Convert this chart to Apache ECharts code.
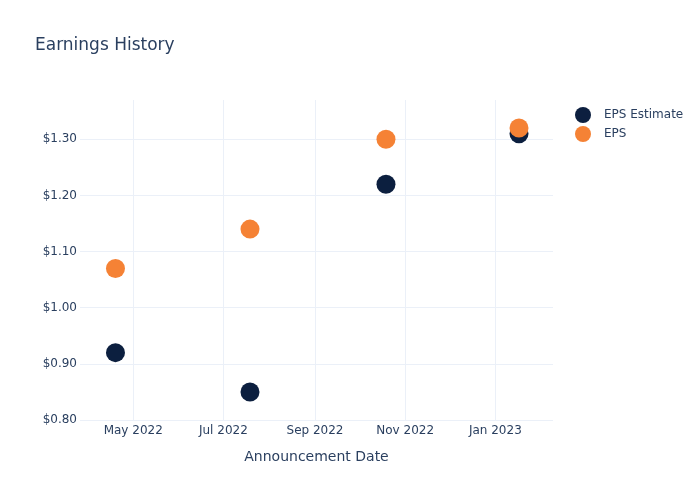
<!DOCTYPE html>
<html>
<head>
<meta charset="utf-8">
<script src="https://cdn.jsdelivr.net/npm/echarts@6/dist/echarts.min.js"></script>
<style>html,body{margin:0;padding:0;background:#fff}#c{width:700px;height:500px}</style>
</head>
<body>
<div id="c"></div>
<script>
var dates = ['2022-04-19', '2022-07-19', '2022-10-19', '2023-01-17'];
var epsEstimate = [0.92, 0.85, 1.22, 1.31];
var eps = [1.07, 1.14, 1.30, 1.32];
var tickDates = ['2022-05-01', '2022-07-01', '2022-09-01', '2022-11-01', '2023-01-01'];
var tickLabels = ['May 2022', 'Jul 2022', 'Sep 2022', 'Nov 2022', 'Jan 2023'];
var xRange = ['2022-03-26', '2023-02-09'];
var yRange = [0.8, 1.37];

function ts(d) { var p = d.split('-'); return Date.UTC(+p[0], +p[1] - 1, +p[2]); }
var tickTs = tickDates.map(ts);
var labelMap = {};
tickTs.forEach(function (t, i) { labelMap[t] = tickLabels[i]; });

var FONT = 'DejaVu Sans';
var TXT = '#2a3f5f';
var GRID = '#EBF0F8';

var chart = echarts.init(document.getElementById('c'), null, { renderer: 'canvas' });
chart.setOption({
  animation: false,
  backgroundColor: '#fff',
  textStyle: { fontFamily: FONT },
  title: {
    text: 'Earnings History', left: 35, top: 37, padding: 0,
    textStyle: { fontFamily: FONT, fontSize: 17, fontWeight: 'normal', color: TXT }
  },
  legend: {
    orient: 'vertical', left: 575, top: 107, padding: 0,
    itemWidth: 32, itemHeight: 16, itemGap: 3, icon: 'circle',
    textStyle: { fontFamily: FONT, fontSize: 12, color: TXT },
    data: ['EPS Estimate', 'EPS']
  },
  grid: { left: 80, right: 147, top: 100, bottom: 80, containLabel: false },
  xAxis: {
    type: 'value',
    min: ts(xRange[0]), max: ts(xRange[1]),
    name: 'Announcement Date', nameLocation: 'middle', nameGap: 30,
    nameTextStyle: { fontFamily: FONT, fontSize: 14, color: TXT },
    axisLine: { show: false },
    axisTick: { show: false, customValues: tickTs },
    axisLabel: {
      customValues: tickTs, margin: 5,
      fontFamily: FONT, fontSize: 12, color: TXT,
      formatter: function (v) { return labelMap[v] || ''; }
    },
    splitLine: { show: true, lineStyle: { color: GRID, width: 1 } }
  },
  yAxis: {
    type: 'value', min: yRange[0], max: yRange[1], interval: 0.1,
    axisLine: { show: false }, axisTick: { show: false },
    axisLabel: {
      showMaxLabel: false, margin: 3,
      fontFamily: FONT, fontSize: 12, color: TXT,
      formatter: function (v) { return '$' + v.toFixed(2); }
    },
    splitLine: { show: true, lineStyle: { color: [GRID, GRID, GRID, GRID, GRID, GRID, 'rgba(0,0,0,0)'], width: 1 } }
  },
  series: [
    {
      name: 'EPS Estimate', type: 'scatter', symbol: 'circle', symbolSize: 19,
      itemStyle: { color: '#0c1f3f', opacity: 1 },
      data: dates.map(function (d, i) { return [ts(d), epsEstimate[i]]; })
    },
    {
      name: 'EPS', type: 'scatter', symbol: 'circle', symbolSize: 19,
      itemStyle: { color: '#f58235', opacity: 1 },
      data: dates.map(function (d, i) { return [ts(d), eps[i]]; })
    }
  ]
});
</script>
</body>
</html>
